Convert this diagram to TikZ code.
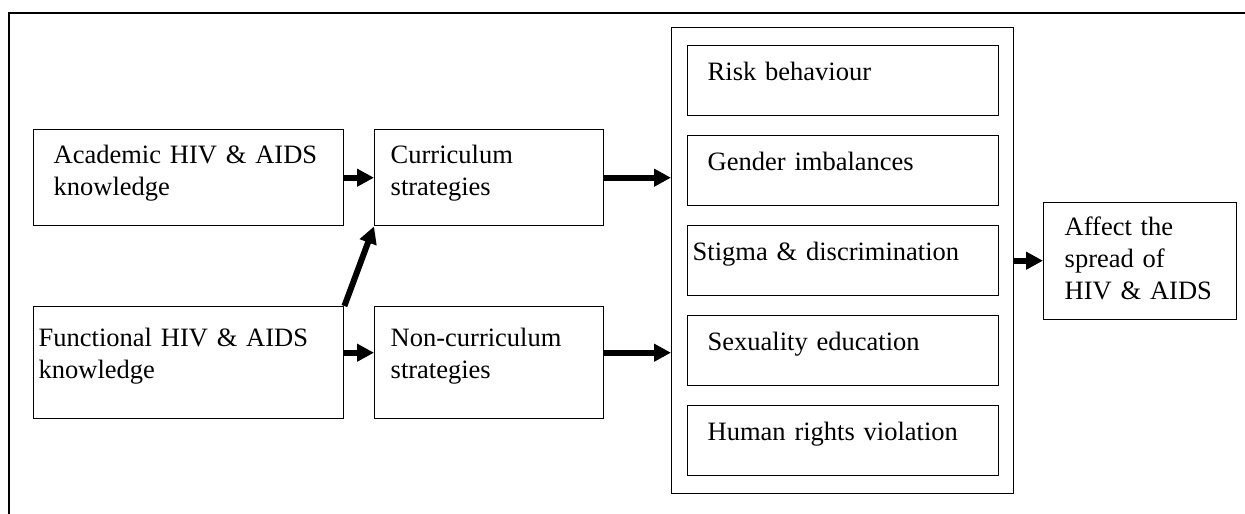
\documentclass[tikz,border=0pt]{standalone}
\usepackage{fontspec}
\setmainfont{Liberation Serif}
\usetikzlibrary{positioning,arrows.meta}

\begin{document}
\begin{tikzpicture}[
  x=1pt, y=-1pt,
  node distance=18.5pt,
  mybox/.style={draw, line width=1.4pt, anchor=north west, align=left,
    inner xsep=20pt, inner ysep=0pt, font=\fontsize{26.5}{32}\selectfont},
  factorbox/.style={mybox, text width=271pt, text height=35pt, text depth=35pt},
  fatarrow/.style={line width=6pt, -{Triangle[length=17pt,width=17pt]}},
]
\useasboundingbox (0,0) rectangle (1245,514);

% page frame
\draw[line width=2.2pt] (1250,13) -- (9,13) -- (9,520);

% knowledge and strategies
\node[mybox, text width=270pt, text height=34pt, text depth=62pt] (acad) at (33,129) {\makebox[257pt][s]{Academic HIV \& AIDS}\\knowledge};
\node[mybox, inner xsep=16pt, text width=197pt, text height=34pt, text depth=62pt] (curr) at (374,129) {Curriculum\\strategies};
\node[mybox, inner xsep=5pt, text width=300pt, text height=40pt, text depth=72pt] (func) at (33,306) {\makebox[280pt][s]{Functional HIV \& AIDS}\\knowledge};
\node[mybox, inner xsep=16pt, text width=197pt, text height=40pt, text depth=72pt] (noncurr) at (374,306) {Non-curriculum\\strategies};

% factors
\node[draw, line width=1.4pt, anchor=north west, inner sep=0pt, minimum width=342pt, minimum height=466pt] (factors) at (671,27) {};
\node[factorbox] (risk) at (687,45) {Risk behaviour};
\node[factorbox, below=of risk.south west, anchor=north west] (gender) {Gender imbalances};
\node[factorbox, inner xsep=5pt, text width=301pt, below=of gender.south west, anchor=north west] (stigma) {\makebox[274pt][s]{Stigma \& discrimination}};
\node[factorbox, below=of stigma.south west, anchor=north west] (sexed) {Sexuality education};
\node[factorbox, below=of sexed.south west, anchor=north west] (rights) {Human rights violation};

\node[mybox, inner xsep=21pt, text width=151pt, text height=33pt, text depth=84pt] (affect) at (1043,202) {Affect the\\spread of\\HIV \& AIDS};

\draw[fatarrow] (acad.east) -- (curr.west);
\draw[fatarrow] (func.north east) -- (curr.south west);
\draw[fatarrow] ([yshift=10pt]func.east) -- ([yshift=10pt]noncurr.west);
\draw[fatarrow] (curr.east) -- (curr.east -| factors.west);
\draw[fatarrow] ([yshift=10pt]noncurr.east) -- ([yshift=10pt]noncurr.east -| factors.west);
\draw[fatarrow] (factors.east) -- (factors.east -| affect.west);
\end{tikzpicture}
\end{document}
